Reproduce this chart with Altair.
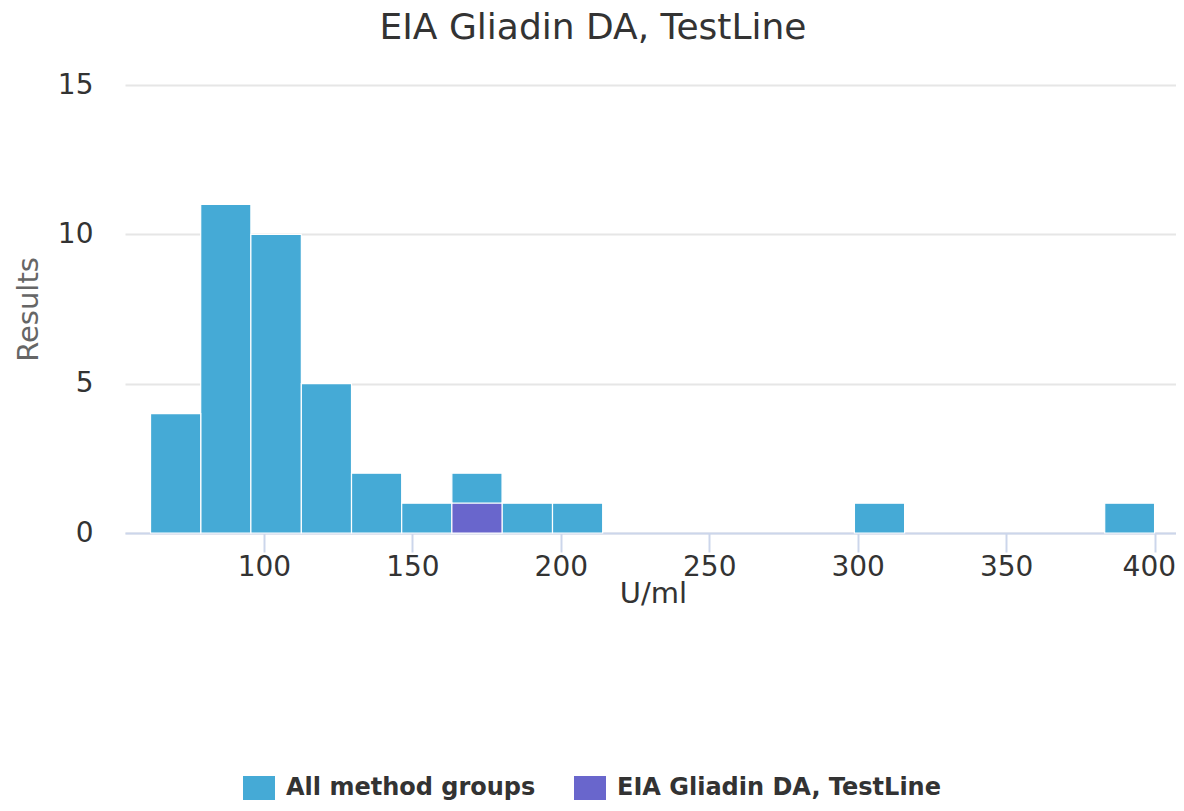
import altair as alt
import pandas as pd

# Histogram bins (U/ml bin edges and counts)
all_starts = [61.8, 78.7, 95.6, 112.6, 129.5, 146.4, 163.3, 180.2, 197.2, 298.9, 383.2]
all_ends = [78.7, 95.6, 112.6, 129.5, 146.4, 163.3, 180.2, 197.2, 214.1, 315.8, 400.0]
all_counts = [4, 11, 10, 5, 2, 1, 2, 1, 1, 1, 1]

tl_starts = [163.3]
tl_ends = [180.2]
tl_counts = [1]

series_names = ["All method groups", "EIA Gliadin DA, TestLine"]
series_colors = ["#45aad6", "#6966cc"]
x_ticks = [100, 150, 200, 250, 300, 350, 400]
y_ticks = [0, 5, 10, 15]

rows = []
for s, e, c in zip(all_starts, all_ends, all_counts):
    rows.append({"start": s, "end": e, "count": c, "series": series_names[0]})
for s, e, c in zip(tl_starts, tl_ends, tl_counts):
    rows.append({"start": s, "end": e, "count": c, "series": series_names[1]})
df = pd.DataFrame(rows)

FONT = "DejaVu Sans"

chart = (
    alt.Chart(df)
    .mark_bar(stroke="white", strokeWidth=1.2)
    .encode(
        x=alt.X(
            "start:Q",
            scale=alt.Scale(domain=[53.2, 408.9], nice=False, zero=False),
            axis=alt.Axis(
                title="U/ml",
                values=x_ticks,
                grid=False,
                domainColor="#ccd6eb",
                domainWidth=2,
                tickColor="#ccd6eb",
                tickWidth=2,
                tickSize=19,
                labelPadding=1,
                labelFlush=30,
                labelFlushOffset=21,
                labelFont=FONT,
                labelFontSize=28,
                labelColor="#333333",
                titleFont=FONT,
                titleFontSize=29,
                titleFontWeight="normal",
                titleColor="#333333",
                titleBaseline="alphabetic",
                titleY=69,
            ),
        ),
        x2="end:Q",
        y=alt.Y(
            "count:Q",
            stack=None,
            scale=alt.Scale(domain=[0, 15], nice=False),
            axis=alt.Axis(
                title="Results",
                values=y_ticks,
                domain=False,
                ticks=False,
                tickSize=0,
                gridColor="#e6e6e6",
                gridWidth=2,
                labelPadding=32,
                labelFont=FONT,
                labelFontSize=28,
                labelColor="#333333",
                titleFont=FONT,
                titleFontSize=29,
                titleFontWeight="normal",
                titleColor="#666666",
                titleBaseline="alphabetic",
                titleX=-88,
            ),
        ),
        y2=alt.datum(0),
        color=alt.Color(
            "series:N",
            scale=alt.Scale(domain=series_names, range=series_colors),
            legend=alt.Legend(
                title=None,
                orient="none",
                legendX=118,
                legendY=687,
                direction="horizontal",
                symbolType="M-1,-0.75H1V0.75H-1Z",
                symbolSize=1024,
                symbolStrokeWidth=0,
                labelFont=FONT,
                labelFontSize=24,
                labelFontWeight="bold",
                labelColor="#333333",
                labelOffset=11,
                labelLimit=0,
                columnPadding=38,
                padding=0,
            ),
        ),
        order=alt.Order("count:Q", sort="descending"),
    )
    .properties(
        width=1056,
        height=448,
        title=alt.TitleParams(
            "EIA Gliadin DA, TestLine",
            font=FONT,
            fontSize=36,
            fontWeight="normal",
            color="#333333",
            anchor="middle",
            dx=-60,
            offset=24,
        ),
        autosize=alt.AutoSizeParams(type="none"),
        padding={"left": 117, "top": 77, "right": -5, "bottom": 270},
    )
    .configure_view(stroke=None)
)

chart.save("out.html", embed_options={"renderer": "svg", "actions": False})
